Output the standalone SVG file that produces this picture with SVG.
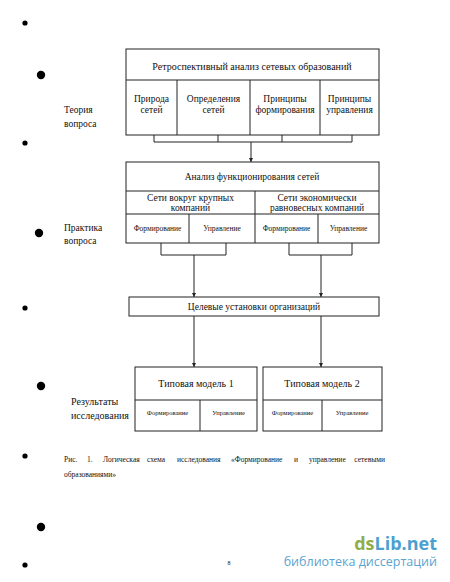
<svg xmlns="http://www.w3.org/2000/svg" width="450" height="582" viewBox="0 0 450 582">
<defs>
<style>
.b{fill:#fff;stroke:#222;stroke-width:1}
.l{fill:none;stroke:#222;stroke-width:1}
text{font-family:"Liberation Serif","Times New Roman",serif;fill:#111}
.c{text-anchor:middle}
.h{font-size:10px}
.m{font-size:9.5px}
.s{font-size:7.5px}
.xs{font-size:6.5px}
.cap{font-size:7.5px}
.dot{fill:#000}
</style>
<marker id="ar" viewBox="0 0 6 6" refX="6" refY="3" markerWidth="4" markerHeight="4" orient="auto" markerUnits="userSpaceOnUse">
<path d="M0,0 L6,3 L0,6 z" fill="#222"/>
</marker>
</defs>
<rect width="450" height="582" fill="#fff"/>

<g id="dots">
<circle class="dot" cx="25" cy="23" r="2.6"/>
<circle class="dot" cx="41" cy="75" r="4.2"/>
<circle class="dot" cx="25" cy="143" r="2.6"/>
<circle class="dot" cx="39" cy="233" r="4.2"/>
<circle class="dot" cx="25" cy="308" r="2.6"/>
<circle class="dot" cx="41" cy="386" r="4.2"/>
<circle class="dot" cx="25" cy="456" r="2.6"/>
<circle class="dot" cx="41" cy="527" r="4.2"/>
<circle class="dot" cx="25" cy="565" r="2.6"/>
</g>

<g id="labels" class="m">
<text x="64" y="113">Теория</text>
<text x="64" y="127">вопроса</text>
<text x="64" y="231">Практика</text>
<text x="64" y="244">вопроса</text>
<text x="71" y="405" class="h">Результаты</text>
<text x="71" y="419" class="h">исследования</text>
</g>

<g id="connectors">
<path class="l" d="M154,135 V142 H352 V135 M218,135 V142 M282,135 V142"/>
<path class="l" d="M251,142 V162" marker-end="url(#ar)"/>
<path class="l" d="M161,243 V255 H226 V243"/>
<path class="l" d="M289,243 V255 H352 V243"/>
<path class="l" d="M194,255 V297" marker-end="url(#ar)"/>
<path class="l" d="M321,255 V297" marker-end="url(#ar)"/>
<path class="l" d="M194,316 V367" marker-end="url(#ar)"/>
<path class="l" d="M321,316 V367" marker-end="url(#ar)"/>
</g>

<g id="retro">
<rect class="b" x="126" y="49" width="253" height="86"/>
<path class="l" d="M126,80 H379 M177,80 V135 M250,80 V135 M320,80 V135"/>
<text class="c h" x="252" y="70">Ретроспективный анализ сетевых образований</text>
<text class="c m" x="151.5" y="102">Природа</text>
<text class="c m" x="151.5" y="113">сетей</text>
<text class="c m" x="213.5" y="102">Определения</text>
<text class="c m" x="213.5" y="113">сетей</text>
<text class="c m" x="285" y="102">Принципы</text>
<text class="c m" x="285" y="113">формирования</text>
<text class="c m" x="349.5" y="102">Принципы</text>
<text class="c m" x="349.5" y="113">управления</text>
</g>

<g id="analysis">
<rect class="b" x="126" y="162" width="253" height="81"/>
<path class="l" d="M126,191 H379 M126,214 H379 M255,191 V243 M189,214 V243 M318,214 V243"/>
<text class="c m" x="252" y="180">Анализ функционирования сетей</text>
<text class="c m" x="190.5" y="201">Сети вокруг крупных</text>
<text class="c m" x="190.5" y="211">компаний</text>
<text class="c m" x="317" y="201">Сети экономически</text>
<text class="c m" x="317" y="211">равновесных компаний</text>
<text class="c s" x="157.5" y="231">Формирование</text>
<text class="c s" x="222" y="231">Управление</text>
<text class="c s" x="286.5" y="231">Формирование</text>
<text class="c s" x="348.5" y="231">Управление</text>
</g>

<g id="goals">
<rect class="b" x="129" y="297" width="250" height="19"/>
<text class="c m" x="254" y="310">Целевые установки организаций</text>
</g>

<g id="model1">
<rect class="b" x="135" y="367" width="122" height="64"/>
<path class="l" d="M135,400 H257 M200,400 V431"/>
<text class="c h" x="196" y="387">Типовая модель 1</text>
<text class="c xs" x="167.5" y="415">Формирование</text>
<text class="c xs" x="228.5" y="415">Управление</text>
</g>

<g id="model2">
<rect class="b" x="263" y="367" width="119" height="64"/>
<path class="l" d="M263,400 H382 M322,400 V431"/>
<text class="c h" x="322" y="387">Типовая модель 2</text>
<text class="c xs" x="292.5" y="415">Формирование</text>
<text class="c xs" x="352" y="415">Управление</text>
</g>

<g id="caption" class="cap">
<text x="64" y="462">Рис.</text>
<text x="87" y="462">1.</text>
<text x="103" y="462">Логическая</text>
<text x="147" y="462">схема</text>
<text x="177" y="462">исследования</text>
<text x="231" y="462">«Формирование</text>
<text x="294" y="462">и</text>
<text x="309" y="462">управление</text>
<text x="385" y="462" text-anchor="end">сетевыми</text>
<text x="64" y="477">образованиями»</text>
</g>

<text x="229" y="565" font-size="6" text-anchor="middle">8</text>

<g id="watermark">
<text x="437" y="550" text-anchor="end" style="font-family:'Open Sans','DejaVu Sans',sans-serif;font-weight:bold;font-size:18px"><tspan fill="#8fae4a">ds</tspan><tspan fill="#4d9fcf">Lib.net</tspan></text>
<text x="437" y="566" text-anchor="end" style="font-family:'Open Sans','DejaVu Sans',sans-serif;font-size:12.5px;fill:#5ba3d0">библиотека диссертаций</text>
</g>
</svg>
